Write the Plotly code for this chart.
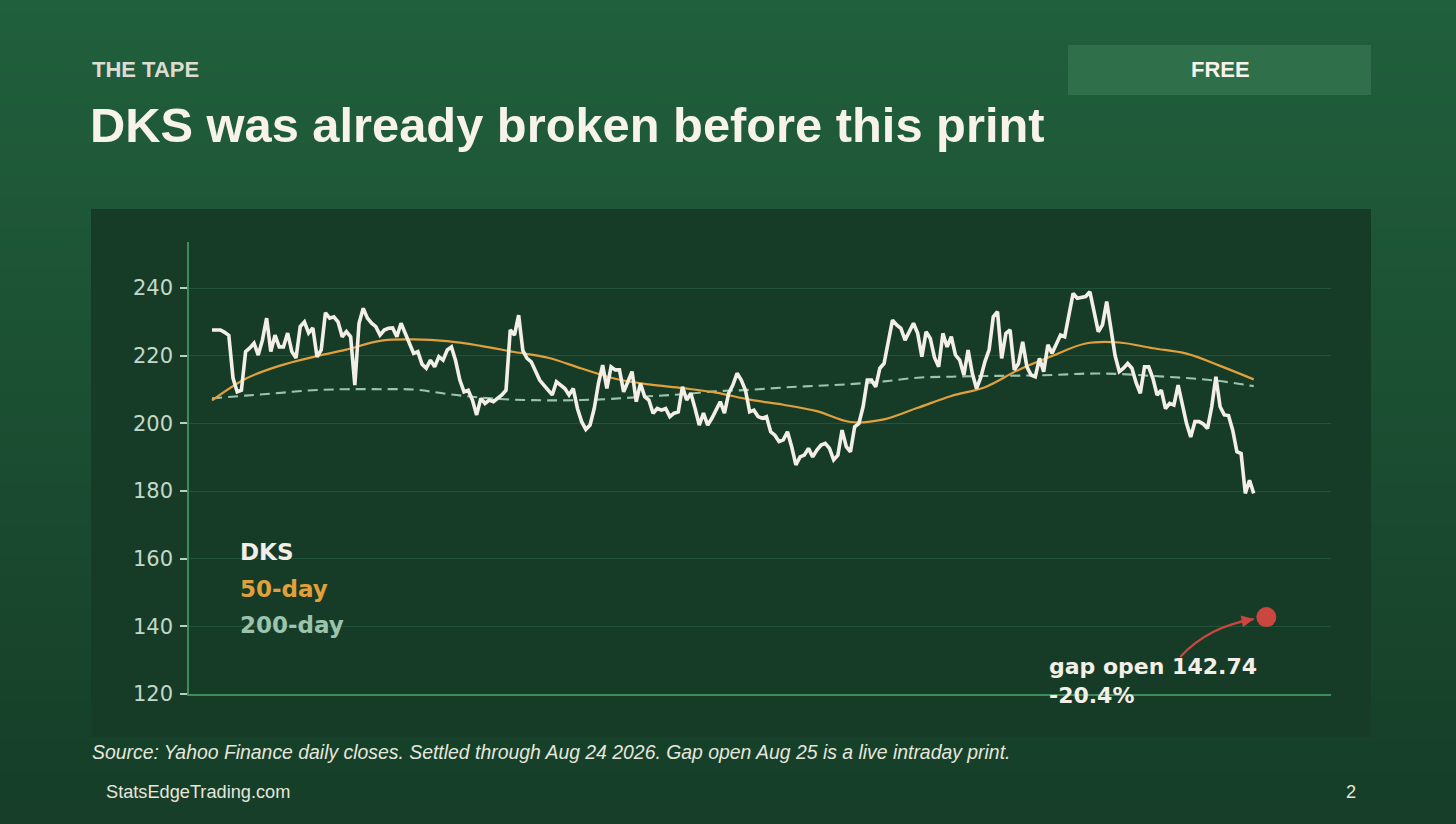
import numpy as np
import pandas as pd
import plotly.graph_objects as go

# DKS daily closes, oldest -> newest (last settled close = Aug 24 2026)
closes = [
    227.6, 227.6, 227.6, 226.9, 226.0, 213.4, 209.3, 209.8, 221.2, 222.3,
    223.7, 220.2, 224.6, 231.1, 221.2, 226.1, 222.6, 222.6, 226.7, 221.2,
    219.3, 228.6, 230.0, 226.7, 228.2, 219.7, 221.7, 232.7, 231.1, 231.5,
    230.0, 225.6, 227.1, 225.6, 211.3, 229.6, 234.0, 231.1, 229.6, 228.6,
    226.1, 227.6, 228.1, 228.2, 225.6, 229.6, 226.6, 224.1, 220.7, 221.2,
    217.5, 216.3, 218.7, 216.7, 219.7, 218.7, 221.7, 222.6, 218.5, 212.8,
    209.3, 209.8, 206.9, 202.5, 207.4, 205.9, 206.9, 206.4, 207.4, 208.4,
    209.8, 227.6, 226.1, 232.0, 221.5, 219.2, 218.2, 215.3, 212.8, 211.3,
    209.8, 208.4, 212.3, 211.3, 210.3, 208.4, 210.3, 204.4, 200.5, 198.2,
    199.5, 204.4, 211.8, 217.2, 210.3, 216.7, 215.8, 215.8, 209.3, 212.3,
    215.3, 206.4, 211.8, 207.9, 206.9, 203.0, 204.4, 203.9, 204.4, 202.0,
    203.0, 203.4, 210.8, 206.9, 208.9, 204.4, 199.5, 203.0, 199.5, 201.5,
    203.9, 206.4, 203.0, 208.9, 211.3, 214.8, 212.8, 209.8, 203.4, 203.9,
    202.0, 201.5, 202.0, 197.5, 196.5, 194.6, 195.1, 197.5, 193.1, 187.7,
    190.1, 190.6, 192.6, 190.1, 192.1, 193.6, 194.1, 192.6, 189.2, 190.6,
    198.0, 193.1, 191.6, 199.0, 200.0, 204.9, 212.8, 212.8, 210.8, 216.3,
    217.7, 224.0, 230.5, 229.1, 228.1, 224.6, 227.0, 229.6, 226.6, 219.7,
    227.1, 225.1, 219.5, 216.7, 226.6, 222.6, 225.6, 220.2, 218.7, 214.3,
    221.7, 214.8, 210.3, 213.5, 218.2, 221.7, 231.5, 233.0, 219.2, 226.6,
    227.6, 215.8, 217.7, 224.1, 216.7, 214.3, 213.8, 219.2, 215.3, 223.2,
    220.7, 223.7, 226.1, 225.6, 232.5, 238.4, 237.0, 237.2, 237.5, 238.9,
    232.5, 227.1, 229.1, 236.0, 228.0, 220.0, 215.3, 216.3, 217.7, 216.3,
    212.0, 208.9, 216.7, 216.7, 213.3, 208.4, 209.8, 204.4, 205.9, 205.4,
    211.3, 205.9, 200.0, 196.0, 200.5, 200.5, 199.8, 198.5, 204.9, 213.8,
    204.9, 202.5, 202.3, 198.0, 191.6, 191.1, 179.3, 183.2, 179.3,
]

# moving averages, read every 8 sessions
ma_step = 8
ma50 = [206.8, 213.2, 217.0, 219.6, 221.8, 224.4, 224.8, 224.3, 222.9, 221.1,
        219.4, 216.2, 213.2, 211.5, 210.4, 209.1, 207.0, 205.5, 203.6, 200.4,
        201.2, 204.6, 208.1, 210.7, 215.8, 219.9, 223.6, 223.9, 222.2, 220.6,
        217.0, 213.0]
ma200 = [207.4, 208.2, 209.0, 209.8, 210.1, 210.1, 210.0, 208.7, 207.6, 207.0,
         206.8, 206.9, 207.3, 208.0, 208.6, 209.5, 209.9, 210.6, 211.1, 211.6,
         212.4, 213.5, 213.8, 214.0, 214.1, 214.3, 214.7, 214.6, 214.0, 213.4,
         212.5, 211.0]

gap_open = 142.74
gap_pct = -20.4

y_ticks = [120, 140, 160, 180, 200, 220, 240]

# colours
WHITE = '#f4efe6'
ORANGE = '#e2a03c'
SAGE = '#9cc4ad'
RED = '#c9473f'
PANEL = '#163c28'
GRID = '#21533a'
AXIS = '#3f8b5a'

days = np.arange(len(closes))
ma_days = np.arange(len(ma50)) * ma_step
gap_day = len(closes) + 2

W, H = 1456, 824

fig = go.Figure()

# the three lines
fig.add_trace(go.Scatter(x=ma_days, y=ma200, mode='lines', line_shape='spline',
                         line=dict(color=SAGE, width=2.1, dash='10px,6px'), hoverinfo='skip'))
fig.add_trace(go.Scatter(x=ma_days, y=ma50, mode='lines', line_shape='spline',
                         line=dict(color=ORANGE, width=2.2), hoverinfo='skip'))
fig.add_trace(go.Scatter(x=days, y=closes, mode='lines',
                         line=dict(color=WHITE, width=3.6), hoverinfo='skip'))

# gap open dot
fig.add_trace(go.Scatter(x=[gap_day], y=[gap_open], mode='markers',
                         marker=dict(color=RED, size=20), hoverinfo='skip'))

############ background: vertical gradient made of thin bands ############
shapes = []
n_bands = 80
top_c = np.array([33, 96, 61])
bot_c = np.array([22, 62, 40])
for k in range(n_bands):
    c = top_c + (bot_c - top_c) * k / (n_bands - 1)
    shapes.append(dict(type='rect', xref='paper', yref='paper',
                       x0=0, x1=1, y0=1 - (k + 1) / n_bands - 0.002, y1=1 - k / n_bands,
                       fillcolor='rgb(%d,%d,%d)' % tuple(c), line_width=0, layer='below'))

# dark chart panel
shapes.append(dict(type='rect', xref='paper', yref='paper',
                   x0=91 / W, x1=1371 / W, y0=1 - 737 / H, y1=1 - 209 / H,
                   fillcolor=PANEL, line_width=0, layer='below'))
# FREE tag
shapes.append(dict(type='rect', xref='paper', yref='paper',
                   x0=1068 / W, x1=1371 / W, y0=1 - 95 / H, y1=1 - 45 / H,
                   fillcolor='#2f6f4a', line_width=0, layer='below'))

# curved arrow pointing at the gap dot
ax0, ay0 = gap_day - 20.5, gap_open - 11.8
cx, cy = gap_day - 13.9, gap_open - 2.8
ex, ey = gap_day - 3.0, gap_open - 0.6
shapes.append(dict(type='path', xref='x', yref='y',
                   path='M %f,%f Q %f,%f %f,%f' % (ax0, ay0, cx, cy, ex, ey),
                   line=dict(color=RED, width=2.2)))

fig.update_layout(shapes=shapes)

########################## text ##########################
HEAD = 'Liberation Sans, Arial, sans-serif'
MPL = 'DejaVu Sans, sans-serif'

annos = [
    dict(text='<b>THE TAPE</b>', x=90 / W, y=1 - 70 / H, font=dict(family=HEAD, size=22, color='#dcdcd2'),
         xanchor='left'),
    dict(text='<b>DKS was already broken before this print</b>', x=88 / W, y=1 - 125 / H,
         font=dict(family=HEAD, size=48.8, color='#f7f3ea'), xanchor='left'),
    dict(text='<b>FREE</b>', x=1220 / W, y=1 - 70 / H, font=dict(family=HEAD, size=22, color='#f7f3ea'),
         xanchor='center'),
    dict(text='<i>Source: Yahoo Finance daily closes. Settled through Aug 24 2026. '
              'Gap open Aug 25 is a live intraday print.</i>',
         x=90 / W, y=1 - 752 / H, font=dict(family=HEAD, size=19.4, color='#e6e6de'), xanchor='left'),
    dict(text='StatsEdgeTrading.com', x=104 / W, y=1 - 792 / H,
         font=dict(family=HEAD, size=18.2, color='#e6e6de'), xanchor='left'),
    dict(text='2', x=1358 / W, y=1 - 792 / H, font=dict(family=HEAD, size=18.2, color='#e6e6de'),
         xanchor='right'),
    # legend, text only
    dict(text='<b>DKS</b>', x=238 / W, y=1 - 552 / H, font=dict(family=MPL, size=23, color=WHITE),
         xanchor='left'),
    dict(text='<b>50-day</b>', x=238 / W, y=1 - 589 / H, font=dict(family=MPL, size=23, color=ORANGE),
         xanchor='left'),
    dict(text='<b>200-day</b>', x=238 / W, y=1 - 625 / H, font=dict(family=MPL, size=23, color=SAGE),
         xanchor='left'),
]
for a in annos:
    a.update(xref='paper', yref='paper', yanchor='middle', showarrow=False)

# gap label, one block with two lines
annos.append(dict(text='<b>gap open %.2f<br>%.1f%%</b>' % (gap_open, gap_pct),
                  x=gap_day - 52.3, y=123.9,
                  xref='x', yref='y', xanchor='left', yanchor='middle', align='left',
                  showarrow=False, font=dict(family=MPL, size=22, color=WHITE)))
# arrow head
annos.append(dict(text='', x=ex, y=ey, xref='x', yref='y', ax=-16, ay=3,
                  showarrow=True, arrowhead=2, arrowsize=1.1, arrowwidth=2.2, arrowcolor=RED))

fig.update_layout(
    annotations=annos,
    width=W, height=H,
    margin=dict(l=0, r=0, t=0, b=0, pad=0, autoexpand=False),
    paper_bgcolor='#173f29',
    plot_bgcolor='rgba(0,0,0,0)',
    showlegend=False,
    xaxis=dict(domain=[189 / W, 1331 / W], range=[-5.48, 266.4], automargin=False,
               showgrid=False, zeroline=False, showticklabels=False, ticks='',
               showline=True, linecolor=AXIS, linewidth=1.5),
    yaxis=dict(domain=[1 - 694 / H, 1 - 241.7 / H], range=[120, 253.7], automargin=False,
               tickvals=y_ticks, ticks='outside', ticklen=7, tickwidth=1.5, tickcolor='#b9d2c0',
               ticklabelstandoff=3,
               tickfont=dict(family=MPL, size=21, color='#c3d8c8'),
               showgrid=True, gridcolor=GRID, gridwidth=1, zeroline=False,
               showline=True, linecolor=AXIS, linewidth=1.5),
)

fig.write_html("out.html", config={'displayModeBar': False},
               post_script="document.body.style.margin='0';")
